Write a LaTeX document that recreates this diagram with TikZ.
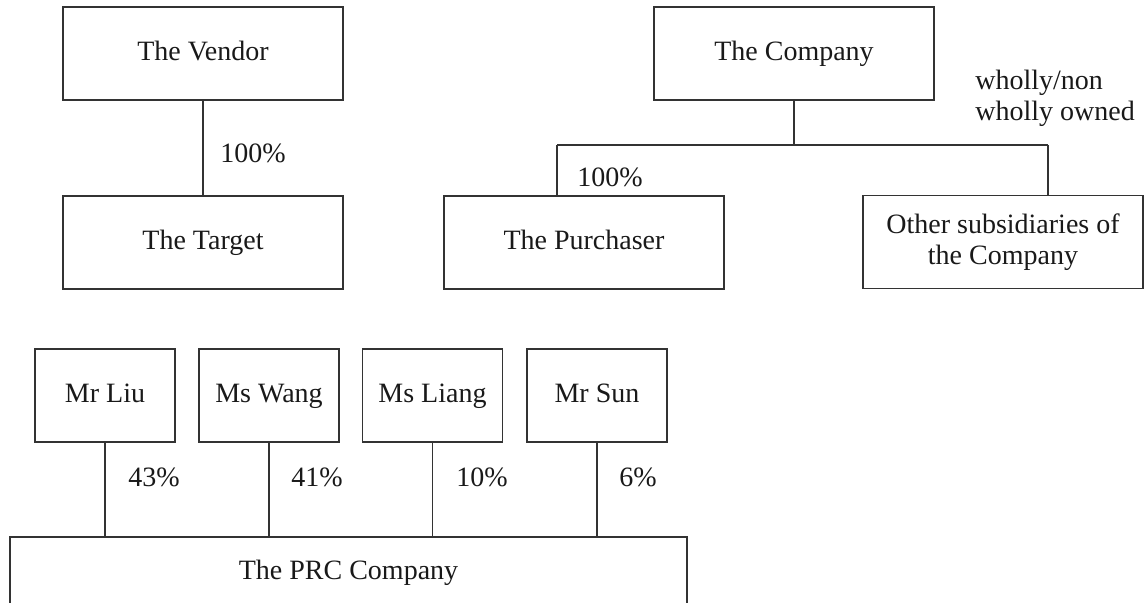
\documentclass[tikz,border=0pt]{standalone}
\usepackage{fontspec}
\setmainfont{Liberation Serif}
\usepackage{tikz}

\tikzset{
  entity/.style={draw=black!80, line width=0.6pt, minimum width=140pt, minimum height=46.5pt, inner sep=0pt, align=center},
  oneline/.style={entity, text height=10pt, text depth=3pt},
  person/.style={oneline, minimum width=70pt},
  share/.style={inner sep=0pt, text=black!90},
  link/.style={draw=black!80, line width=0.6pt}
}

\begin{document}
\begin{tikzpicture}[x=0.5pt, y=-0.5pt, every node/.append style={font=\fontsize{14}{15.5}\selectfont, text=black!90}]
                \useasboundingbox (0, 0) rectangle (1147, 602);
                % vendor side
                \node[oneline] (vendor) at (203, 53.5) {The Vendor};
                \node[oneline] (target) at (203, 242.5) {The Target};
                \draw[link] (vendor) -- (target);
                \node[share] (pctTarget) at (253, 153) {100\%};
                % company side
                \node[oneline] (company) at (794, 53.5) {The Company};
                \node[oneline] (purchaser) at (584, 242.5) {The Purchaser};
                \node[entity] (other) at (1003, 242) {Other subsidiaries of\\the Company};
                \coordinate (forkL) at (557, 145);
                \coordinate (forkR) at (1048, 145);
                \draw[link] (company.south) -- (company.south |- forkL);
                \draw[link] (forkL) -- (forkR);
                \draw[link] (forkL) -- (forkL |- purchaser.north);
                \draw[link] (forkR) -- (forkR |- other.north);
                \node[share] (pctPurchaser) at (610, 177) {100\%};
                \node[share, align=left, anchor=west] (owned) at (975, 98) {wholly/non\\wholly owned};
                % shareholders of the PRC company
                \node[oneline, minimum width=338.5pt, minimum height=35pt] (prc) at (348.5, 572) {The PRC Company};
                \node[person] (liu) at (105, 395.5) {Mr Liu};
                \node[person] (wang) at (269, 395.5) {Ms Wang};
                \node[person] (liang) at (432.5, 395.5) {Ms Liang};
                \node[person] (sun) at (597, 395.5) {Mr Sun};
                \draw[link] (liu) -- (liu |- prc.north);
                \draw[link] (wang) -- (wang |- prc.north);
                \draw[link] (liang) -- (liang |- prc.north);
                \draw[link] (sun) -- (sun |- prc.north);
                \node[share] (pctLiu) at (154, 477) {43\%};
                \node[share] (pctWang) at (317, 477) {41\%};
                \node[share] (pctLiang) at (482, 477) {10\%};
                \node[share] (pctSun) at (638, 477) {6\%};
            \end{tikzpicture}
\end{document}
